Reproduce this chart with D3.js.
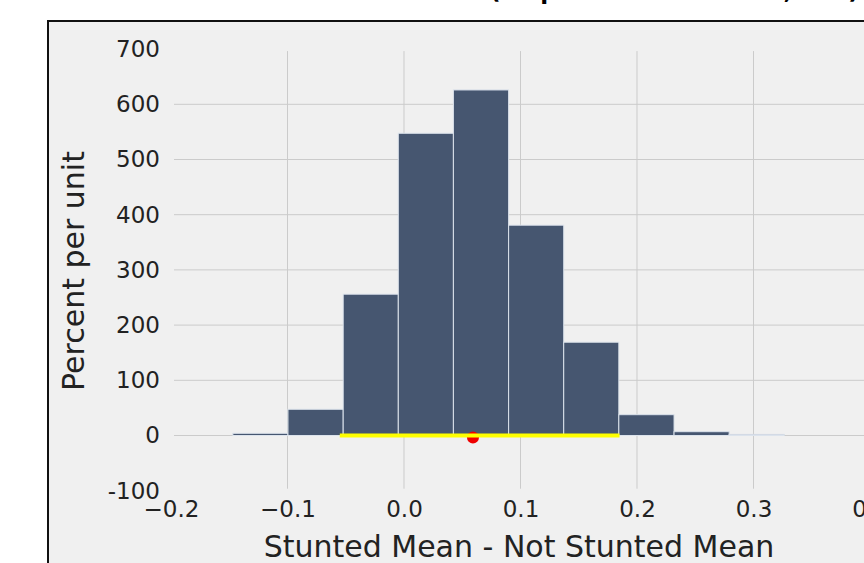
<!DOCTYPE html>
<html>
<head>
<meta charset="utf-8">
<script src="https://cdn.jsdelivr.net/npm/d3@7"></script>
<style>
  html, body { margin: 0; padding: 0; background: #ffffff; }
  svg { display: block; }
  text { font-family: "DejaVu Sans", sans-serif; }
</style>
</head>
<body>
<svg id="chart" width="864" height="563"></svg>
<script>
// Histogram of bootstrapped differences in means (percent per unit)
const binEdges = [-0.1469, -0.0996, -0.0522, -0.0049, 0.0424, 0.0898, 0.1371, 0.1844, 0.2318, 0.2791, 0.3264];
const percentPerUnit = [4, 47.5, 256, 547.5, 626, 381, 169, 37.7, 6.9, 2];
const xTicks = [-0.2, -0.1, 0.0, 0.1, 0.2, 0.3, 0.4];
const yTicks = [-100, 0, 100, 200, 300, 400, 500, 600, 700];
const interval = [-0.0551, 0.185];   // interval drawn as the yellow segment
const observed = 0.0592;              // observed statistic (red dot)
const titlePrefix = "Difference in Means ";
const titleRest = "(Empirical Distribution, 100)";
const xLabel = "Stunted Mean - Not Stunted Mean";
const yLabel = "Percent per unit";

const bins = percentPerUnit.map((h, i) => ({ x0: binEdges[i], x1: binEdges[i + 1], h }));

const svg = d3.select("#chart");

// framed figure panel
svg.append("rect")
  .attr("x", 48).attr("y", 21).attr("width", 900).attr("height", 600)
  .attr("fill", "#f0f0f0").attr("stroke", "#111").attr("stroke-width", 2);

// title (sits above the frame, only its descenders reach the page)
const title = svg.append("text")
  .attr("y", -1.2)
  .attr("font-size", 23).attr("font-weight", "bold").attr("fill", "#000");
const tPre = title.append("tspan").text(titlePrefix);
title.append("tspan").text(titleRest);
title.attr("x", 490 - tPre.node().getComputedTextLength());

const x = d3.scaleLinear().domain([-0.2, 0.4]).range([171, 870]);
const y = d3.scaleLinear().domain([-100, 700]).range([490.7, 49.1]);

const plot = svg.append("g");

// grid lines (interior ticks)
plot.append("g").selectAll("line.v")
  .data(xTicks.filter(d => d > -0.2 && d < 0.4))
  .join("line")
  .attr("x1", d => x(d)).attr("x2", d => x(d))
  .attr("y1", y(700) + 2).attr("y2", y(-100) - 2)
  .attr("stroke", "#cbcbcb").attr("stroke-width", 1);

plot.append("g").selectAll("line.h")
  .data(yTicks.filter(d => d > -100 && d < 700))
  .join("line")
  .attr("x1", x(-0.2) + 3).attr("x2", x(0.4))
  .attr("y1", d => y(d)).attr("y2", d => y(d))
  .attr("stroke", "#cbcbcb").attr("stroke-width", 1);

// histogram bars
plot.append("g").selectAll("rect")
  .data(bins)
  .join("rect")
  .attr("x", d => x(d.x0))
  .attr("width", d => x(d.x1) - x(d.x0))
  .attr("y", d => y(d.h))
  .attr("height", d => y(0) - y(d.h))
  .attr("fill", "#465670")
  .attr("stroke", "#dce3ec").attr("stroke-width", 1);

// observed value
plot.append("circle")
  .attr("cx", x(observed)).attr("cy", y(0) + 2).attr("r", 6)
  .attr("fill", "#ee0000");

// interval segment
plot.append("line")
  .attr("x1", x(interval[0])).attr("x2", x(interval[1]))
  .attr("y1", y(0)).attr("y2", y(0))
  .attr("stroke", "#ffff00").attr("stroke-width", 4);

// axes
const xAxis = svg.append("g")
  .attr("transform", `translate(0,${y(-100)})`)
  .call(d3.axisBottom(x).tickValues(xTicks).tickSize(0).tickPadding(10).tickFormat(d3.format(".1f")));
xAxis.select(".domain").remove();
xAxis.selectAll("text").attr("font-size", 23).attr("fill", "#222").attr("font-family", "DejaVu Sans");

const yAxis = svg.append("g")
  .attr("transform", `translate(${x(-0.2)},0)`)
  .call(d3.axisLeft(y).tickValues(yTicks).tickSize(0).tickPadding(11)
    .tickFormat(d => d < 0 ? "-" + Math.abs(d) : String(d)));
yAxis.select(".domain").remove();
yAxis.selectAll("text").attr("font-size", 23).attr("fill", "#222").attr("font-family", "DejaVu Sans");

// axis labels
svg.append("text")
  .attr("x", 519).attr("y", 557)
  .attr("text-anchor", "middle")
  .attr("font-size", 30).attr("fill", "#222")
  .text(xLabel);

svg.append("text")
  .attr("transform", "translate(84,271) rotate(-90)")
  .attr("text-anchor", "middle")
  .attr("font-size", 30).attr("fill", "#222")
  .text(yLabel);
</script>
</body>
</html>
